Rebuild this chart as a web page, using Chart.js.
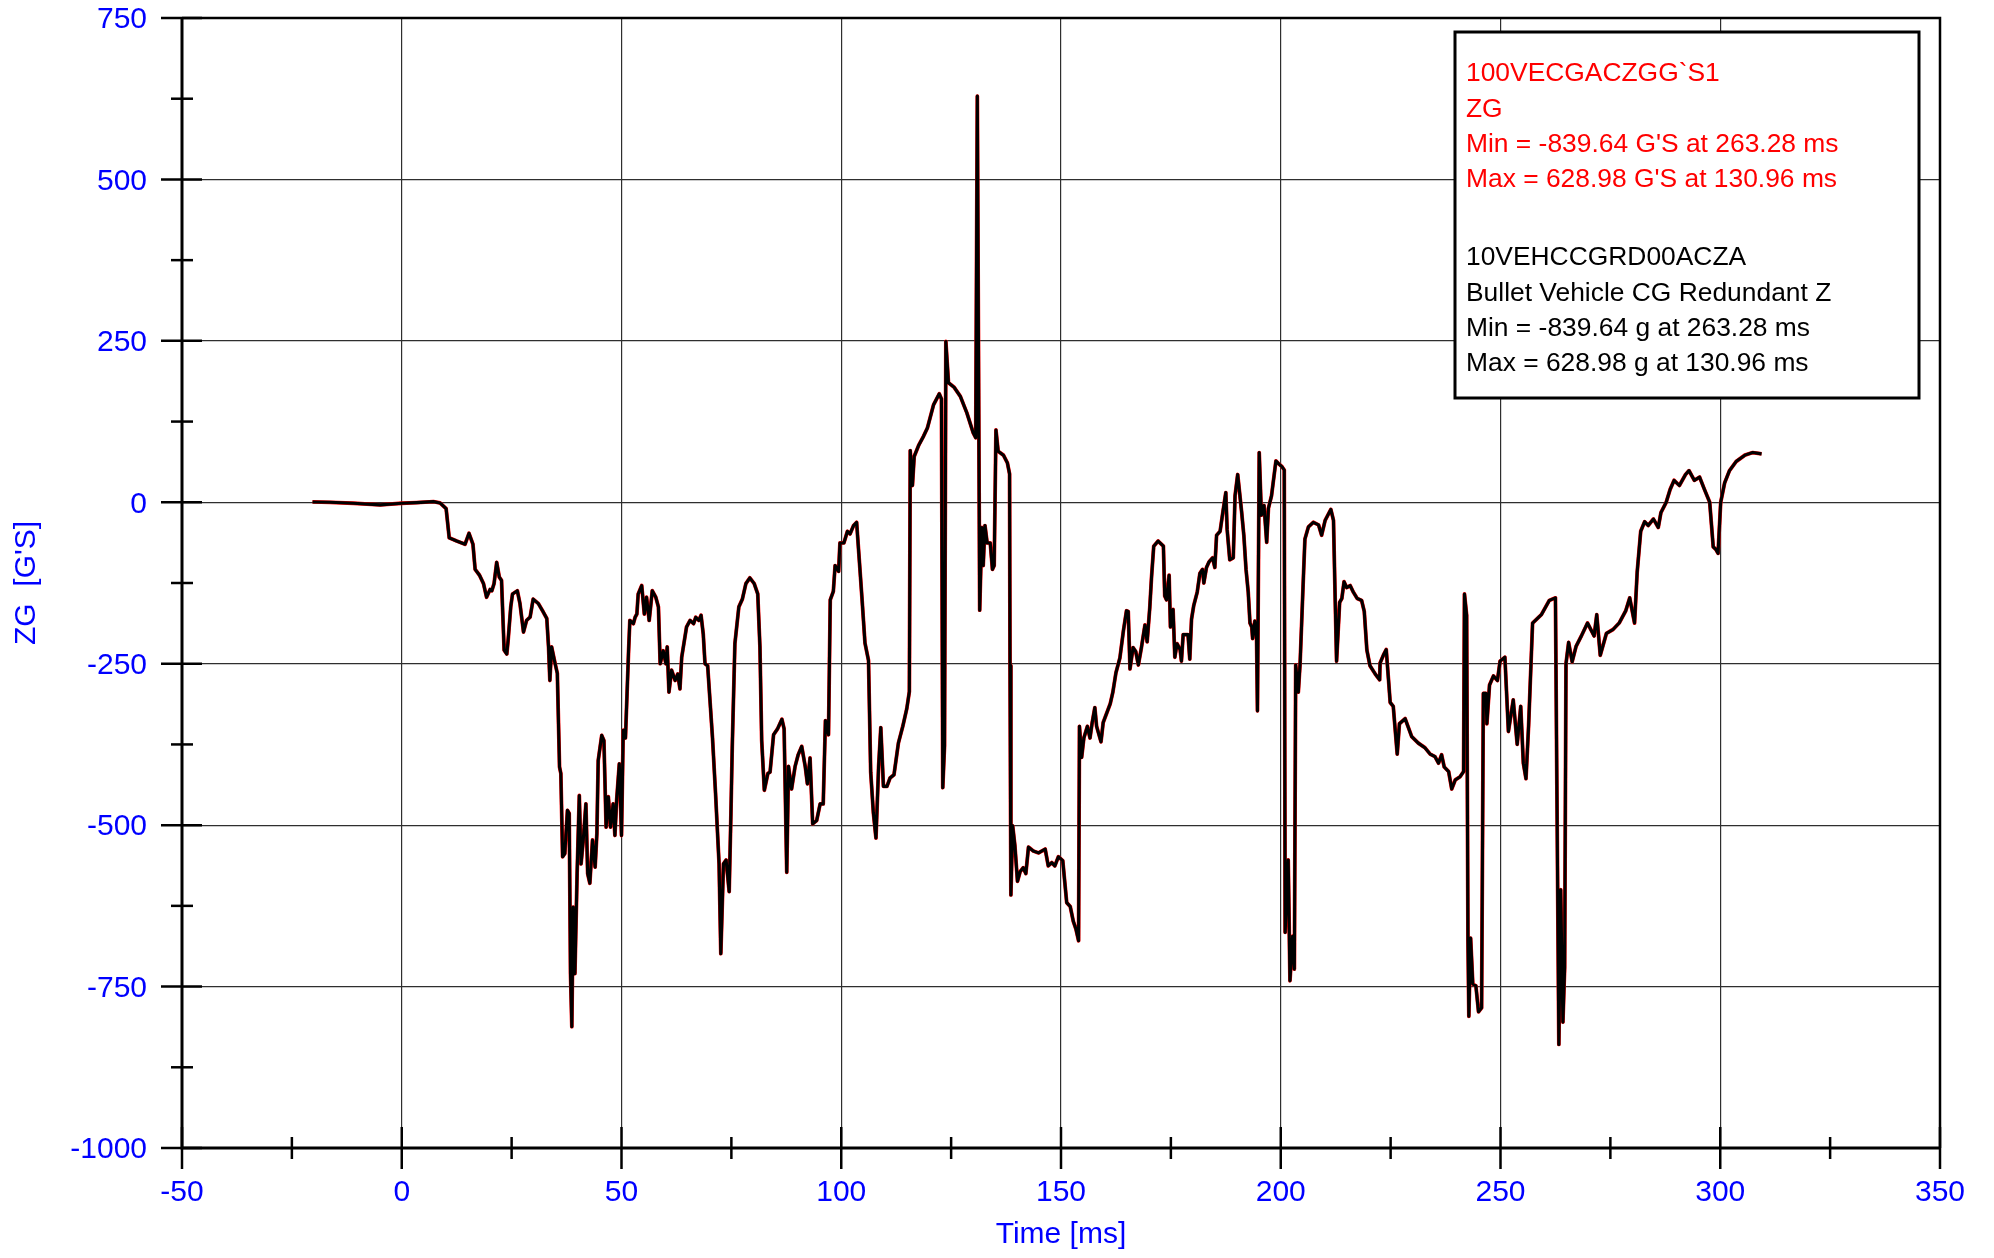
<!DOCTYPE html>
<html>
<head>
<meta charset="utf-8">
<script src="https://cdn.jsdelivr.net/npm/chart.js@4.4.1/dist/chart.umd.min.js"></script>
<style>html,body{margin:0;padding:0;background:#fff;overflow:hidden}canvas{display:block}</style>
</head>
<body>
<canvas id="c" width="1994" height="1258"></canvas>
<script>
// ---- data ----
const timeMs = [
-20.3,-16.3,-11,-4.9,0,3.4,7.2,8.7,10.1,10.8,12.5,14.4,15.3,16.2,16.7,17.7,18.6,19.3,20.1,20.5,
21,21.6,22.2,22.7,23.3,23.9,24.2,24.8,25.2,26.3,26.9,27.7,28.4,29.2,29.9,31.1,32.2,33,33.4,33.7,
34.1,34.9,35.4,35.9,36.2,36.6,37.1,37.7,38.1,38.4,38.7,39,39.4,39.9,40.4,40.8,41.3,41.9,42.3,42.8,
43.4,44,44.4,44.7,45.5,46,46.5,47,47.5,48.1,48.5,48.9,49.5,50,50.4,50.9,51.6,51.9,52.7,53.1,
53.5,53.8,54.6,55.2,55.7,56.3,57,57.8,58.4,58.8,59.5,60.1,60.4,60.8,61.4,62.2,62.8,63.3,63.7,64.8,
65.6,66.4,66.9,67.6,68.1,68.6,69,69.6,70.7,71.4,72.2,72.6,73.2,73.8,74.5,74.9,75.2,75.8,76.7,77.5,
78.3,79.2,80.2,81,81.5,81.9,82.5,83.3,83.8,84.6,85.5,86.5,87,87.6,88,88.7,89.5,90.2,91,91.8,
92.3,92.9,93.5,94.4,95.2,95.9,96.4,97.1,97.5,98.2,98.6,99.4,99.7,100.6,101.4,102,102.8,103.5,104.1,104.7,
105.4,106.2,106.7,107.3,107.9,108.5,109,109.6,110.4,111.1,112,113,114,114.9,115.5,115.7,116.2,116.6,117.6,118.7,
119.6,121,122.3,122.8,123.1,123.5,123.8,124.4,125.7,127.1,128.6,130,130.6,130.96,131.5,132,132.3,132.7,133.2,133.9,
134.4,134.8,135.2,135.7,136.9,137.8,138.3,138.4,138.6,139,139.5,140.1,140.7,141.4,142,142.6,143.7,144.9,146.4,147.1,
147.9,148.6,149.4,150.4,151.3,152.1,152.8,153.4,154,154.2,154.7,155.2,156,156.6,157.1,157.7,158.1,159.1,159.6,161.2,
161.8,162.5,163.4,164.2,164.9,165.3,165.7,166.4,167,167.6,168.3,169.1,169.6,170.2,170.6,171.1,172.1,173.3,173.6,174,
174.6,174.9,175.5,175.9,176.4,177.1,177.4,177.8,178.4,178.9,179.3,179.7,180.2,181,181.6,182.2,182.5,183.1,183.7,184.5,
185,185.4,186.2,186.9,187.5,187.8,188.4,189.2,189.6,190.2,191.1,191.6,192.1,192.6,193,193.4,193.6,194.1,194.5,194.7,
195.1,195.6,196.2,196.8,197.2,197.9,198.9,199.5,200.3,200.8,201,201.7,202.1,202.7,203.1,203.4,204,204.4,205.2,205.5,
206.3,207.4,208.6,209.3,210.1,211.4,212,212.4,212.7,213.4,213.9,214.4,215,215.8,216.5,217.4,218.4,219,219.6,220.3,
221.5,222.5,222.6,223.4,224,224.5,224.9,225.6,226.5,227,228.3,229.8,231.3,232.8,234,235.1,235.9,236.6,237.2,238.2,
238.9,239.7,240.8,241.6,241.8,242.3,242.6,242.8,243.2,243.7,244.4,245,245.7,246.1,246.7,246.9,247.5,248.4,249.3,249.9,
251,251.8,252.9,253.8,254.6,255.2,255.8,256.4,257.3,259.3,261.1,262.5,263.28,263.7,264.2,264.6,264.9,265.5,266.3,267.2,
268.4,269.8,271.3,271.9,272.7,274.1,275.6,277,278.5,279.4,280.5,281.1,281.9,282.8,283.6,284.8,285.9,286.5,287.7,288.6,
289.5,290.7,292.1,292.9,294.1,295.3,296.4,297.6,298.4,299,299.5,300.1,301,302.1,303.6,305.6,307.4,309.4
];
const zgValues = [
0.5,0,-1.5,-4,-1.5,-0.5,1,-1,-10,-55,-60,-65,-48,-65,-104,-113,-126,-147,-135,-137,
-126,-93,-116,-121,-229,-235,-214,-162,-142,-137,-157,-201,-183,-178,-150,-157,-170,-180,-224,-276,
-224,-250,-265,-410,-420,-549,-544,-477,-482,-730,-812,-627,-730,-575,-454,-560,-523,-467,-575,-590,
-523,-565,-513,-400,-361,-369,-503,-456,-503,-467,-516,-461,-405,-516,-353,-365,-232,-183,-188,-178,
-173,-142,-129,-173,-147,-183,-137,-147,-162,-250,-230,-250,-224,-294,-260,-276,-266,-289,-240,-193,
-183,-188,-178,-183,-175,-204,-250,-253,-364,-451,-560,-699,-560,-554,-603,-482,-379,-219,-162,-150,
-126,-117,-126,-142,-224,-369,-446,-420,-418,-360,-351,-336,-351,-573,-409,-444,-409,-391,-378,-409,
-436,-396,-498,-493,-467,-467,-338,-360,-151,-138,-98,-107,-63,-63,-45,-49,-36,-31,-89,-147,
-218,-245,-418,-480,-520,-409,-349,-440,-440,-427,-422,-373,-347,-320,-293,80,26,71,88,102,
115,151,168,160,-442,-377,249,185,178,164,138,108,100,628.98,-167,-39,-98,-36,-63,-63,
-104,-98,112,79,73,61,44,-253,-608,-501,-531,-587,-572,-566,-575,-534,-540,-543,-537,-563,
-558,-563,-549,-555,-620,-626,-649,-661,-679,-347,-395,-365,-347,-365,-341,-318,-347,-371,-341,-312,
-294,-264,-241,-199,-168,-169,-258,-225,-231,-252,-225,-190,-216,-163,-116,-68,-60,-68,-145,-151,
-113,-193,-166,-240,-219,-228,-246,-205,-205,-205,-243,-181,-160,-139,-110,-104,-125,-101,-92,-86,
-101,-51,-45,-12,15,-42,-89,-86,10,43,-15,-51,-104,-139,-187,-193,-211,-184,-211,-323,
77,-20,-5,-62,-9,10,64,60,55,50,-666,-554,-741,-672,-723,-252,-294,-250,-108,-57,
-38,-31,-35,-51,-28,-11,-28,-155,-246,-155,-149,-123,-132,-129,-139,-149,-152,-169,-229,-253,
-266,-275,-249,-236,-228,-273,-310,-316,-390,-343,-335,-363,-373,-380,-390,-394,-404,-391,-410,-417,
-444,-430,-425,-417,-142,-175,-679,-796,-675,-746,-749,-789,-783,-296,-296,-343,-283,-269,-276,-246,
-240,-355,-306,-375,-316,-404,-428,-345,-187,-174,-152,-148,-839.64,-600,-805,-720,-250,-217,-247,-223,
-207,-187,-207,-174,-237,-203,-197,-187,-168,-148,-187,-108,-45,-30,-36,-26,-39,-16,0,20,
34,26,43,49,34,39,20,0,-69,-73,-79,0,30,49,63,73,77,75
];
const xTickRange = [-50, 350, 50];   // min, max, major step
const yTickRange = [-1000, 750, 250];
const xTitle = 'Time [ms]';
const yTitle = "ZG  [G'S]";
const legendRed = ['100VECGACZGG`S1', 'ZG', "Min = -839.64 G'S at 263.28 ms", "Max = 628.98 G'S at 130.96 ms"];
const legendBlack = ['10VEHCCGRD00ACZA', 'Bullet Vehicle CG Redundant Z', 'Min = -839.64 g at 263.28 ms', 'Max = 628.98 g at 130.96 ms'];

// ---- chart ----
const FONT = "Arial, 'Liberation Sans', sans-serif";
const BLUE = '#0000ff';
const points = timeMs.map((t, i) => ({x: t, y: zgValues[i]}));

const decorPlugin = {
  id: 'decor',
  beforeDraw(chart) {
    const c = chart.ctx;
    c.save(); c.fillStyle = '#fff'; c.fillRect(0, 0, chart.width, chart.height); c.restore();
  },
  afterDraw(chart) {
    const c = chart.ctx, a = chart.chartArea, xs = chart.scales.x, ys = chart.scales.y;
    c.save();
    c.strokeStyle = '#000';
    c.lineCap = 'butt';
    // frame
    c.lineWidth = 3;
    c.beginPath();
    c.moveTo(a.left, a.top); c.lineTo(a.left, a.bottom); c.lineTo(a.right, a.bottom);
    c.stroke();
    c.lineWidth = 2.5;
    c.beginPath();
    c.moveTo(a.left, a.top); c.lineTo(a.right, a.top); c.lineTo(a.right, a.bottom);
    c.stroke();
    // tick marks
    c.lineWidth = 2.5;
    const yStep = yTickRange[2] / 2;
    for (let v = yTickRange[0]; v <= yTickRange[1] + 1e-9; v += yStep) {
      const y = ys.getPixelForValue(v);
      const major = Math.abs(v % yTickRange[2]) < 1e-9;
      const L = major ? 21 : 11;
      c.beginPath(); c.moveTo(a.left - L, y); c.lineTo(a.left + (major ? 20 : 11), y); c.stroke();
    }
    const xStep = xTickRange[2] / 2;
    for (let t = xTickRange[0]; t <= xTickRange[1] + 1e-9; t += xStep) {
      const x = xs.getPixelForValue(t);
      const major = Math.abs(t % xTickRange[2]) < 1e-9;
      const L = major ? 21 : 11;
      c.beginPath(); c.moveTo(x, a.bottom - L); c.lineTo(x, a.bottom + L); c.stroke();
    }
    // legend box
    const bx = 1455, by = 32, bw = 464, bh = 366;
    c.fillStyle = '#fff';
    c.fillRect(bx, by, bw, bh);
    c.lineWidth = 3;
    c.strokeRect(bx, by, bw, bh);
    c.font = '26.4px ' + FONT;
    c.textAlign = 'left';
    c.textBaseline = 'middle';
    c.fillStyle = '#ff0000';
    legendRed.forEach((s, i) => c.fillText(s, bx + 11, 74 + i * 35.3));
    c.fillStyle = '#000';
    legendBlack.forEach((s, i) => c.fillText(s, bx + 11, 258 + i * 35.3));
    c.restore();
  }
};

new Chart(document.getElementById('c'), {
  type: 'line',
  data: {
    datasets: [
      {label: legendBlack[0], data: points, borderColor: '#000000', borderWidth: 3.1,
       pointRadius: 0, tension: 0, borderJoinStyle: 'round', fill: false},
      {label: legendRed[0], data: points, borderColor: '#ff0000', borderWidth: 3.8,
       pointRadius: 0, tension: 0, borderJoinStyle: 'round', fill: false}
    ]
  },
  options: {
    responsive: false,
    animation: false,
    devicePixelRatio: 1,
    parsing: false,
    normalized: true,
    layout: {padding: {left: 0, top: 18, right: 54, bottom: 0}},
    plugins: {legend: {display: false}, tooltip: {enabled: false}},
    scales: {
      x: {
        type: 'linear', min: xTickRange[0], max: xTickRange[1],
        ticks: {stepSize: xTickRange[2], color: BLUE, font: {family: FONT, size: 30}, padding: 27,
                maxRotation: 0, autoSkip: false, callback: v => String(v)},
        grid: {color: '#2e2e2e', lineWidth: 1.2, drawTicks: false},
        border: {display: false},
        title: {display: true, text: xTitle, color: BLUE, font: {family: FONT, size: 30}, padding: {top: 0, bottom: 5}},
        afterFit(s) { s.height = 110; s.paddingLeft = 0; s.paddingRight = 0; }
      },
      y: {
        type: 'linear', min: yTickRange[0], max: yTickRange[1],
        ticks: {stepSize: yTickRange[2], color: BLUE, font: {family: FONT, size: 30}, padding: 35,
                labelOffset: 2, autoSkip: false, callback: v => String(v)},
        grid: {color: '#2e2e2e', lineWidth: 1.2, drawTicks: false},
        border: {display: false},
        title: {display: true, text: yTitle, color: BLUE, font: {family: FONT, size: 30}, padding: {top: 9, bottom: 0}},
        afterFit(s) { s.width = 182; s.paddingTop = 0; s.paddingBottom = 0; }
      }
    }
  },
  plugins: [decorPlugin]
});
</script>
</body>
</html>
